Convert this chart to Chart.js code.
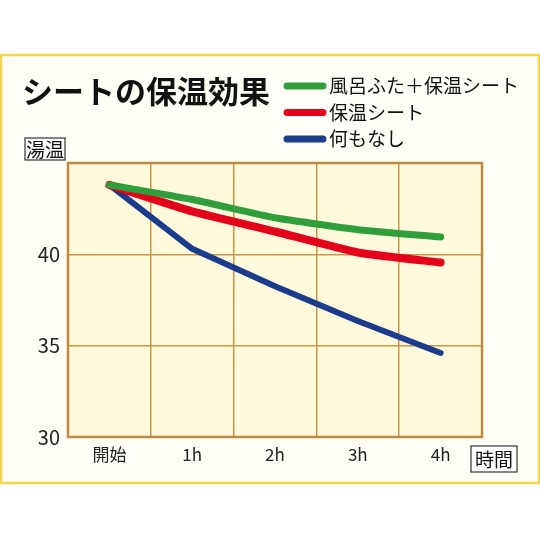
<!DOCTYPE html>
<html>
<head>
<meta charset="utf-8">
<script src="https://cdn.jsdelivr.net/npm/chart.js@4/dist/chart.umd.min.js"></script>
<style>
  html, body { margin: 0; padding: 0; background: #ffffff; }
  #wrap { width: 540px; height: 540px; }
</style>
</head>
<body>
<div id="wrap"><canvas id="bathChart" width="540" height="540"></canvas></div>
<script>
// data
const categories = ['開始', '1h', '2h', '3h', '4h'];
const lidAndSheet = [43.8, 43.0, 42.0, 41.35, 40.95];
const sheetOnly = [43.8, 42.35, 41.25, 40.1, 39.55];
const nothing = [43.8, 40.3, 38.25, 36.35, 34.6];
const yTicks = [30, 35, 40, 45];

const FONT = '"Noto Sans CJK JP", "Noto Sans", sans-serif';

// frame, title, legend and boxed axis names
const decor = {
    id: 'decor',
    beforeDraw(chart) {
        const ctx = chart.ctx;
        const a = chart.chartArea;
        ctx.save();
        ctx.fillStyle = '#fffef6';
        ctx.fillRect(1, 55, 538, 428);
        ctx.strokeStyle = '#f2d548';
        ctx.lineWidth = 2.5;
        ctx.strokeRect(1, 55, 538, 428);
        ctx.fillStyle = '#fffadb';
        ctx.fillRect(a.left, a.top, a.right - a.left, a.bottom - a.top);
        ctx.restore();
    },
    afterDraw(chart) {
        const ctx = chart.ctx;
        const a = chart.chartArea;
        ctx.save();
        // plot border
        ctx.strokeStyle = '#c08a3e';
        ctx.lineWidth = 2.5;
        ctx.strokeRect(a.left, a.top, a.right - a.left, a.bottom - a.top);

        // title
        ctx.fillStyle = '#111';
        ctx.font = 'bold 31px ' + FONT;
        ctx.textBaseline = 'middle';
        ctx.textAlign = 'left';
        ctx.fillText('シートの保温効果', 22, 91);

        // legend
        ctx.font = '19px ' + FONT;
        chart.data.datasets.forEach((ds, i) => {
            const y = 86 + i * 26.5;
            ctx.strokeStyle = ds.borderColor;
            ctx.lineWidth = 7;
            ctx.lineCap = 'round';
            ctx.beginPath();
            ctx.moveTo(287, y);
            ctx.lineTo(323, y);
            ctx.stroke();
            ctx.fillStyle = '#111';
            ctx.fillText(ds.label, 329, y);
        });

        // boxed axis names
        const boxed = (txt, x, y, w, h) => {
            ctx.fillStyle = '#ffffff';
            ctx.fillRect(x, y, w, h);
            ctx.strokeStyle = '#333';
            ctx.lineWidth = 1.2;
            ctx.strokeRect(x, y, w, h);
            ctx.fillStyle = '#111';
            ctx.font = '19px ' + FONT;
            ctx.textAlign = 'center';
            ctx.fillText(txt, x + w / 2, y + h / 2 + 1);
        };
        boxed('湯温', 25, 138, 40, 22);
        boxed('時間', 471, 446, 46, 26);
        ctx.restore();
    }
};

new Chart(document.getElementById('bathChart'), {
    type: 'line',
    data: {
        labels: categories,
        datasets: [{
            label: '風呂ふた＋保温シート',
            data: lidAndSheet,
            borderColor: '#2f9e3b',
            borderWidth: 7,
            tension: 0.15
        }, {
            label: '保温シート',
            data: sheetOnly,
            borderColor: '#e4001b',
            borderWidth: 8,
            tension: 0.15
        }, {
            label: '何もなし',
            data: nothing,
            borderColor: '#1b3b8c',
            borderWidth: 6,
            tension: 0
        }]
    },
    options: {
        responsive: false,
        animation: false,
        layout: { padding: { top: 163, right: 58, left: 0, bottom: 0 } },
        elements: {
            point: { radius: 0 },
            line: { borderCapStyle: 'round', borderJoinStyle: 'round' }
        },
        plugins: {
            legend: { display: false },
            title: { display: false },
            tooltip: { enabled: false }
        },
        scales: {
            x: {
                offset: true,
                grid: { offset: true, color: '#c8954a', lineWidth: 1.5, drawTicks: false },
                border: { display: false },
                ticks: { color: '#222', font: { family: FONT, size: 17 }, padding: 7 },
                afterFit(scale) { scale.height = 103; }
            },
            y: {
                min: 30,
                max: 45,
                afterBuildTicks(scale) { scale.ticks = yTicks.map(v => ({ value: v })); },
                grid: { color: '#c8954a', lineWidth: 1.5, drawTicks: false },
                border: { display: false },
                ticks: {
                    color: '#222',
                    font: { family: FONT, size: 20 },
                    padding: 8,
                    callback: v => (v === 45 ? '' : v)
                },
                afterFit(scale) { scale.width = 68; }
            }
        }
    },
    plugins: [decor]
});
</script>
</body>
</html>
